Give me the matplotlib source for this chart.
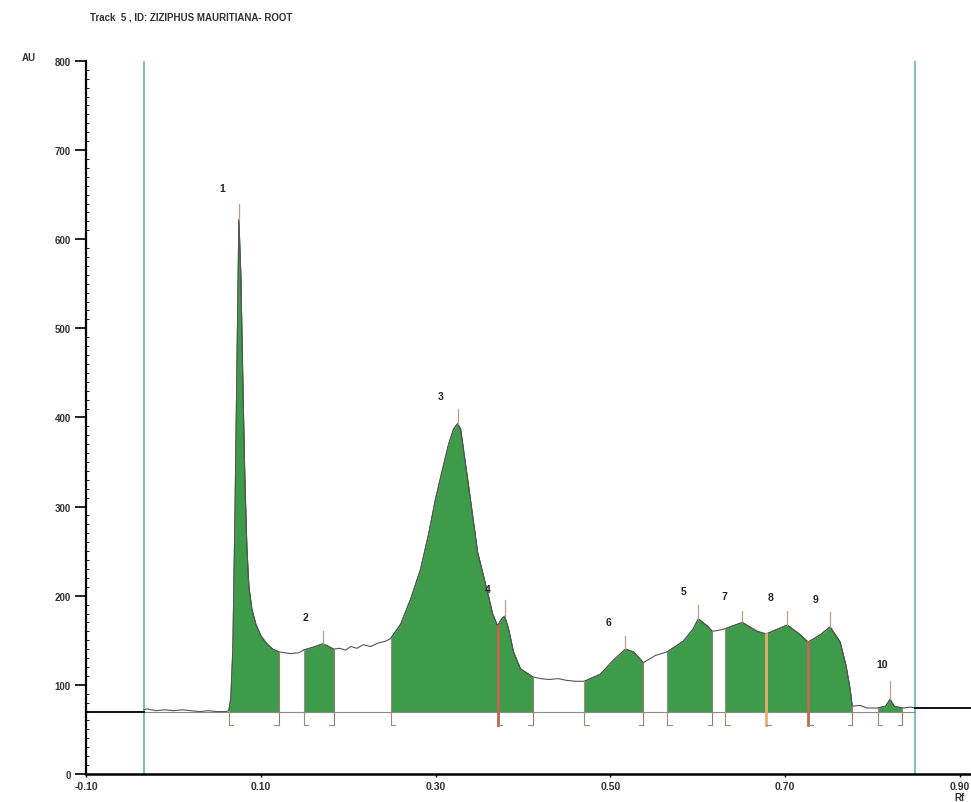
import numpy as np
import matplotlib
matplotlib.use("Agg")
import matplotlib.pyplot as plt

plt.rcParams['font.family'] = ['Liberation Sans', 'DejaVu Sans']

title = "Track  5 , ID: ZIZIPHUS MAURITIANA- ROOT"

# densitometric trace (Rf, AU)
pre_rf = [-0.10, -0.034]
pre_au = [70, 70]

trace_rf = [-0.034, -0.030, -0.020, -0.010, 0.000, 0.010, 0.020, 0.030, 0.040, 0.050, 0.060,
            0.0634, 0.0657, 0.0680, 0.0703, 0.0726, 0.0749, 0.0771, 0.0794, 0.0817, 0.0840,
            0.0863, 0.0897, 0.0943, 0.1000, 0.1069, 0.1137, 0.1206,
            0.1343, 0.1434, 0.1491, 0.1594, 0.1709, 0.1777, 0.1834, 0.1900, 0.1971, 0.2029,
            0.2100, 0.2171, 0.2257, 0.2343, 0.2429, 0.2486,
            0.2600, 0.2714, 0.2829, 0.2920, 0.3000, 0.3080, 0.3149, 0.3206, 0.3251, 0.3286,
            0.3366, 0.3480, 0.3594, 0.3651, 0.3709, 0.3754, 0.3789, 0.3834, 0.3891, 0.3971, 0.4109,
            0.4200, 0.4300, 0.4400, 0.4500, 0.4600, 0.4703,
            0.4886, 0.5029, 0.5171, 0.5263, 0.5377, 0.5450, 0.5514, 0.5651,
            0.5834, 0.5943, 0.6006, 0.6109, 0.6166, 0.6229, 0.6314,
            0.6509, 0.6680, 0.6783, 0.6900, 0.7023, 0.7150, 0.7263,
            0.7400, 0.7514, 0.7629, 0.7697, 0.7743, 0.7766,
            0.7857, 0.7937, 0.8063, 0.8149, 0.8200, 0.8246, 0.8337, 0.8434, 0.8486]
trace_au = [72, 73, 71, 72, 71, 72, 71, 70, 71, 70, 70,
            71, 85, 140, 280, 450, 622, 560, 440, 330, 255,
            210, 185, 168, 155, 146, 140, 137,
            135, 136, 139, 142, 146, 143, 140, 141, 139, 143,
            141, 145, 143, 147, 149, 152,
            168, 196, 230, 269, 309, 342, 370, 387, 393, 387,
            331, 249, 204, 180, 166, 174, 177, 163, 137, 118, 109,
            107, 106, 107, 105, 104, 104,
            112, 127, 140, 137, 125, 129, 133, 137,
            149, 162, 174, 166, 160, 161, 163,
            170, 160, 157, 162, 167, 158, 148,
            156, 165, 148, 121, 95, 76,
            77, 74, 74, 76, 84, 76, 74, 75, 74]

post_rf = [0.8486, 0.9126]
post_au = [74, 74]

# integrated peak windows (start, end)
win_start = [0.0634, 0.1491, 0.2486, 0.4703, 0.5651, 0.6314, 0.8063]
win_end = [0.1206, 0.1834, 0.4109, 0.5377, 0.6166, 0.7766, 0.8337]
shared_bounds = [0.3709, 0.6783, 0.7263]

# peak labels
peak_labels = ["1", "2", "3", "4", "6", "5", "7", "8", "9", "10"]
peak_rf = [0.0749, 0.1709, 0.3251, 0.3789, 0.5171, 0.6006, 0.6509, 0.7023, 0.7514, 0.8200]
peak_mark_top = [640, 160, 410, 195, 155, 190, 183, 183, 182, 104]
label_rf = [0.0554, 0.1514, 0.3057, 0.3594, 0.4977, 0.5834, 0.6303, 0.6829, 0.7343, 0.8109]
label_au = [657, 176, 424, 208, 171, 205, 200, 199, 196, 123]

window_lines = [-0.034, 0.8486]
baseline_au = 70
bracket_low = 55

xticks = [-0.10, 0.10, 0.30, 0.50, 0.70, 0.90]
xtick_labels = ["-0.10", "0.10", "0.30", "0.50", "0.70", "0.90"]
yticks = [0, 100, 200, 300, 400, 500, 600, 700, 800]

fig = plt.figure(figsize=(9.71, 8.03), dpi=100)
ax = fig.add_axes([0.0886, 0.0349, 0.9114, 0.888])
ax.set_xlim(-0.10, 0.9126)
ax.set_ylim(0, 800)

trf = np.array(trace_rf)
tau = np.array(trace_au)

green = '#3e9b4a'
for s, e in zip(win_start, win_end):
    xs = np.linspace(s, e, 200)
    ys = np.interp(xs, trf, tau)
    ax.fill_between(xs, baseline_au, ys, color=green, lw=0, zorder=2)
    ax.plot(xs, ys, color='#2c6b34', lw=0.8, zorder=3)

# baseline across the window
ax.plot([window_lines[0], window_lines[1]], [baseline_au, baseline_au], color='#8a8a8a', lw=0.8, zorder=2.5)

# trace
ax.plot(trf, tau, color='#555555', lw=0.8, zorder=3)
ax.plot(pre_rf, pre_au, color='#111111', lw=1.4, zorder=3)
ax.plot(post_rf, post_au, color='#111111', lw=1.4, zorder=3)

# window lines
for w in window_lines:
    ax.plot([w, w], [0, 800], color='#62b7b0', lw=1.2, zorder=1)

# boundary brackets
foot = 0.005
for s, e in zip(win_start, win_end):
    ys = np.interp(s, trf, tau)
    ye = np.interp(e, trf, tau)
    ax.plot([s, s], [ys, bracket_low], color='#9a8a80', lw=0.8, zorder=4)
    ax.plot([s, s + foot], [bracket_low, bracket_low], color='#9a8a80', lw=0.8, zorder=4)
    ax.plot([e, e], [ye, bracket_low], color='#9a7a70', lw=0.8, zorder=4)
    ax.plot([e - foot, e], [bracket_low, bracket_low], color='#9a8a80', lw=0.8, zorder=4)

shared_colors = ['#c0664a', '#e8b070', '#c06a50']
for b, c in zip(shared_bounds, shared_colors):
    yb = np.interp(b, trf, tau)
    ax.plot([b, b], [yb, bracket_low], color=c, lw=2.0, zorder=4)
    ax.plot([b, b + foot], [bracket_low, bracket_low], color='#9a8a80', lw=0.8, zorder=4)

# peak top markers
for p, top in zip(peak_rf, peak_mark_top):
    yp = np.interp(p, trf, tau)
    ax.plot([p, p], [yp, top], color='#c09a8a', lw=0.9, zorder=4)

for lab, lx, ly in zip(peak_labels, label_rf, label_au):
    ax.text(lx, ly, lab, fontsize=7.5, fontweight='bold', ha='center', va='center', color='#222222')

# axes styling
for sp in ['top', 'right']:
    ax.spines[sp].set_visible(False)
ax.spines['left'].set_linewidth(1.6)
ax.spines['bottom'].set_linewidth(1.8)
ax.set_xticks(xticks)
ax.set_xticklabels(xtick_labels)
ax.set_yticks(yticks)
ax.set_yticks(np.arange(0, 801, 10), minor=True)
ax.tick_params(axis='y', which='major', direction='out', length=8, width=1.2, pad=3, labelsize=7)
ax.tick_params(axis='y', which='minor', direction='in', length=2, width=0.6)
ax.tick_params(axis='x', which='major', direction='out', length=2, width=1.0, pad=3, labelsize=7.5)
for t in ax.get_xticklabels() + ax.get_yticklabels():
    t.set_fontweight('bold')
    t.set_color('#333333')

fig.text(0.0927, 0.9776, title, fontsize=7, fontweight='bold', ha='left', va='center', color='#333333')
fig.text(0.0227, 0.9278, "AU", fontsize=7, fontweight='bold', ha='left', va='center', color='#333333')
fig.text(0.983, 0.006, "Rf", fontsize=7, fontweight='bold', ha='left', va='center', color='#333333')

fig.savefig("out.png", dpi=100)
